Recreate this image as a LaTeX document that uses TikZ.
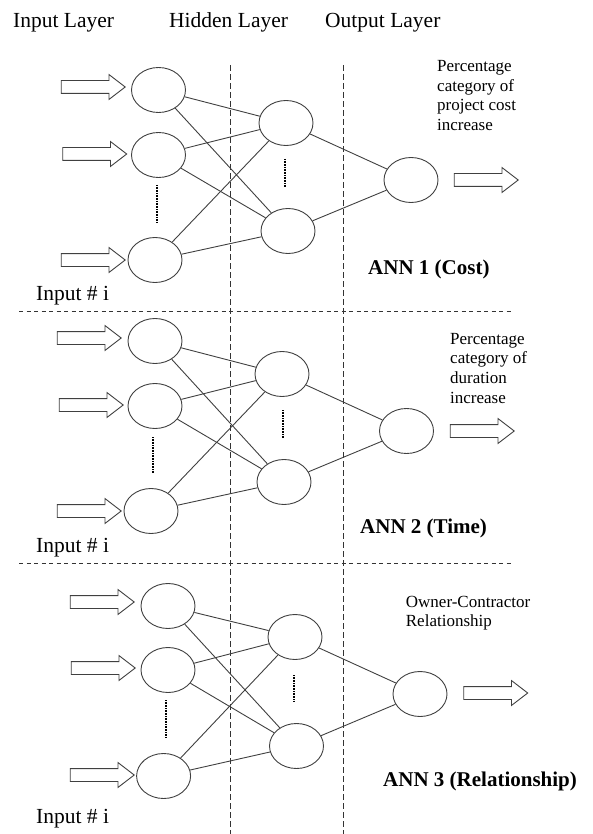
\documentclass[tikz,border=0pt]{standalone}
\usepackage{fontspec}
\setmainfont{Liberation Serif}
\usetikzlibrary{shapes.geometric,shapes.arrows}

\begin{document}
\begin{tikzpicture}[x=1pt,y=-1pt,
  neuron/.style={ellipse, draw=black!75, line width=0.9pt,
                 minimum width=54pt, minimum height=45pt, inner sep=0pt},
  blockarrow/.style={single arrow, draw=black!75, line width=0.9pt,
                 minimum height=64pt, minimum width=24pt, inner sep=6pt,
                 single arrow head extend=6pt, single arrow tip angle=75},
  link/.style={draw=black!75, line width=0.9pt},
  sep/.style={draw=black!80, line width=0.8pt, dash pattern=on 6pt off 3pt},
  hsep/.style={draw=black!80, line width=0.8pt, dash pattern=on 4pt off 3.5pt},
  ellip/.style={draw=black, line width=1.3pt, dash pattern=on 0.8pt off 0.8pt},
  big/.style={font=\fontsize{21.5}{24}\selectfont, inner sep=0pt, anchor=base west},
  ann/.style={font=\fontsize{21}{24}\selectfont\bfseries, inner sep=0pt, anchor=base west},
  note/.style={font=\fontsize{17}{19.7}\selectfont, inner sep=0pt, anchor=base west, align=left}]
  \useasboundingbox (0,0) rectangle (592,834);

  % layer titles
  \node[big] (tin)  at (13,28)  {Input Layer};
  \node[big] (thid) at (169,28) {Hidden Layer};
  \node[big] (tout) at (325,28) {Output Layer};

  % separators
  \draw[sep] (230,65) -- (230,834);
  \draw[sep] (343.5,65) -- (343.5,834);
  \draw[hsep] (19,311) -- (511,311);
  \draw[hsep] (19,563) -- (511,563);

  % ANN 1
  \node[neuron] (in11) at (158.5,90)  {};
  \node[neuron] (in12) at (158.5,155) {};
  \node[neuron] (in13) at (155,260)   {};
  \node[neuron] (hid11) at (286,123)  {};
  \node[neuron] (hid12) at (288,231)  {};
  \node[neuron] (out1) at (411,180)   {};
  \node[blockarrow] (arr11) at (89,87)    {};
  \node[blockarrow] (arr12) at (90.5,154) {};
  \node[blockarrow] (arr13) at (89,260)   {};
  \node[blockarrow] (res1)  at (482,180)  {};
  \draw[ellip] (157,185) -- (157,223);
  \draw[ellip] (285,159) -- (285,187);
  \node[note] (lab1) at (437,130.6) {Percentage\\category of\\project cost\\increase};
  \node[ann] (name1) at (368,274) {ANN 1 (Cost)};
  \node[big] (inp1) at (36,300) {Input \# i};

  % ANN 2
  \node[neuron] (in21) at (155,341) {};
  \node[neuron] (in22) at (155,406) {};
  \node[neuron] (in23) at (151,511) {};
  \node[neuron] (hid21) at (282,374) {};
  \node[neuron] (hid22) at (284,482) {};
  \node[neuron] (out2) at (406.5,431) {};
  \node[blockarrow] (arr21) at (85,338) {};
  \node[blockarrow] (arr22) at (87,405) {};
  \node[blockarrow] (arr23) at (85,511) {};
  \node[blockarrow] (res2)  at (478,431) {};
  \draw[ellip] (153,437) -- (153,473);
  \draw[ellip] (283,410) -- (283,438);
  \node[note] (lab2) at (450,403.1) {Percentage\\category of\\duration\\increase};
  \node[ann] (name2) at (360,533) {ANN 2 (Time)};
  \node[big] (inp2) at (36,552) {Input \# i};

  % ANN 3
  \node[neuron] (in31) at (168,606) {};
  \node[neuron] (in32) at (168,670) {};
  \node[neuron] (in33) at (163.6,776) {};
  \node[neuron] (hid31) at (295,637) {};
  \node[neuron] (hid32) at (296.5,746) {};
  \node[neuron] (out3) at (420,694) {};
  \node[blockarrow] (arr31) at (98,602) {};
  \node[blockarrow] (arr32) at (99,668) {};
  \node[blockarrow] (arr33) at (98,775) {};
  \node[blockarrow] (res3)  at (491.5,693) {};
  \draw[ellip] (166,700) -- (166,737);
  \draw[ellip] (294,675) -- (294,702);
  \node[note] (lab3) at (405.7,626.7) {Owner-Contractor\\Relationship};
  \node[ann] (name3) at (383,786) {ANN 3 (Relationship)};
  \node[big] (inp3) at (36,823) {Input \# i};

  % weights
  \foreach \p in {1,2,3}{
    \foreach \i in {1,2,3}
      \foreach \h in {1,2}
        \draw[link] (in\p\i) -- (hid\p\h);
    \foreach \h in {1,2}
      \draw[link] (hid\p\h) -- (out\p);
  }
\end{tikzpicture}
\end{document}
